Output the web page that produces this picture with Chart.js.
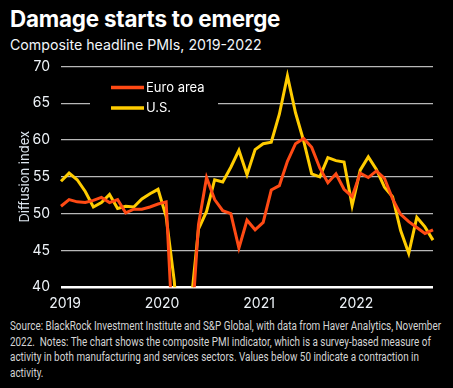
<!DOCTYPE html>
<html>
<head>
<meta charset="utf-8">
<script src="https://cdn.jsdelivr.net/npm/chart.js@4/dist/chart.umd.min.js"></script>
<style>
  html,body{margin:0;padding:0;background:#000;width:453px;height:388px;overflow:hidden;}
  #title{position:absolute;left:10px;top:5px;font-family:Inter,Roboto,sans-serif;font-weight:700;font-size:22.4px;color:#fff;letter-spacing:-0.2px;white-space:nowrap;}
  #sub{position:absolute;left:10px;top:36px;font-family:Inter,Roboto,sans-serif;font-size:14.2px;color:#f2f6fa;white-space:nowrap;}
  #wrap{position:absolute;left:0;top:47px;width:453px;height:267px;}
  #note{position:absolute;left:10px;top:318px;font-family:Roboto,"Liberation Sans",sans-serif;font-size:12.5px;line-height:15.7px;color:#d4d4d4;white-space:pre;transform-origin:0 0;}
</style>
</head>
<body>
<div id="title">Damage starts to emerge</div>
<div id="sub">Composite headline PMIs, 2019-2022</div>
<div id="wrap"><canvas id="c" width="453" height="267"></canvas></div>
<div id="note"><span id="l1">Source: BlackRock Investment Institute and S&amp;P Global, with data from Haver Analytics, November</span>
2022.  Notes: The chart shows the composite PMI indicator, which is a survey-based measure of
activity in both manufacturing and services sectors. Values below 50 indicate a contraction in
activity.</div>
<script>
// fit the footnote's first line to the reference width
(function(){
  const l1 = document.getElementById('l1');
  const w = l1.getBoundingClientRect().width;
  document.getElementById('note').style.transform = 'scaleX(' + (431 / w) + ')';
})();

// Months Jan 2019 .. Nov 2022
const years = [2019, 2020, 2021, 2022];
const months = [];
years.forEach(y => { for (let m = 1; m <= 12; m++) { if (!(y === 2022 && m > 11)) months.push(y + '-' + String(m).padStart(2, '0')); } });

const euroArea = [
  51.0, 51.9, 51.6, 51.5, 51.8, 52.2, 51.5, 51.9, 50.1, 50.6, 50.6, 50.9,
  51.3, 51.6, 29.7, 13.6, 31.9, 48.5, 54.9, 51.9, 50.4, 50.0, 45.3, 49.1,
  47.8, 48.8, 53.2, 53.8, 57.1, 59.5, 60.2, 59.0, 56.2, 54.2, 55.4, 53.3,
  52.3, 55.5, 54.9, 55.8, 54.8, 52.0, 49.9, 48.9, 48.1, 47.3, 47.8
];
const us = [
  54.4, 55.5, 54.6, 53.0, 50.9, 51.5, 52.6, 50.7, 51.0, 50.9, 52.0, 52.7,
  53.3, 49.6, 40.9, 27.0, 37.0, 47.9, 50.3, 54.6, 54.3, 56.3, 58.6, 55.3,
  58.7, 59.5, 59.7, 63.5, 68.7, 63.7, 59.9, 55.4, 55.0, 57.6, 57.2, 57.0,
  51.1, 55.9, 57.7, 56.0, 53.6, 52.3, 47.7, 44.6, 49.5, 48.2, 46.4
];
const yTicks = [40, 45, 50, 55, 60, 65, 70];

const EURO_COLOR = '#ff4a14';
const US_COLOR = '#ffcc00';

const legendPlugin = {
  id: 'inlineLegend',
  beforeDatasetsDraw(chart) {
    const ctx = chart.ctx;
    const xs = chart.scales.x, ys = chart.scales.y;
    ctx.save();
    ctx.fillStyle = '#000';
    ctx.fillRect(xs.left + 29, ys.getPixelForValue(68.2), 128, ys.getPixelForValue(62.3) - ys.getPixelForValue(68.2));
    const x0 = xs.left + 50;
    chart.data.datasets.forEach((ds, i) => {
      const y = ys.getPixelForValue(67.15 - i * 2.8);
      ctx.strokeStyle = ds.borderColor;
      ctx.lineWidth = 3.5;
      ctx.beginPath(); ctx.moveTo(x0, y); ctx.lineTo(x0 + 33, y); ctx.stroke();
      ctx.fillStyle = '#fff';
      ctx.font = '13px Inter, Roboto, sans-serif';
      ctx.textBaseline = 'middle';
      ctx.fillText(ds.label, x0 + 35, y + 0.5);
    });
    ctx.restore();
  }
};

new Chart(document.getElementById('c'), {
  type: 'line',
  data: {
    labels: months,
    datasets: [
      { label: 'Euro area', data: euroArea, borderColor: EURO_COLOR, borderWidth: 3, pointRadius: 0, tension: 0, clip: {left: 4, right: 4, top: 4, bottom: 0} },
      { label: 'U.S.', data: us, borderColor: US_COLOR, borderWidth: 3, pointRadius: 0, tension: 0, clip: {left: 4, right: 4, top: 4, bottom: 0} }
    ]
  },
  options: {
    responsive: false,
    animation: false,
    layout: { padding: { top: 1, right: 20, bottom: 2, left: 0 } },
    plugins: { legend: { display: false }, tooltip: { enabled: false } },
    scales: {
      x: {
        grid: { display: false },
        border: { display: false },
        ticks: {
          autoSkip: false, maxRotation: 0, minRotation: 0, padding: 0, labelOffset: 4,
          color: '#eef3f8', font: { family: 'Inter, Roboto, sans-serif', size: 14 },
          callback: function(v, i) { const l = months[i]; return l.endsWith('-01') ? l.slice(0, 4) : ''; }
        }
      },
      y: {
        min: 40, max: 70,
        afterBuildTicks: s => { s.ticks = yTicks.map(v => ({ value: v })); },
        afterFit: s => { s.width = 61; },
        border: { display: false },
        grid: {
          drawTicks: false,
          color: c => c.tick.value === 40 ? '#ffffff' : '#b8b8b8',
          lineWidth: c => c.tick.value === 40 ? 2.5 : 1.3
        },
        ticks: { padding: 11, color: '#eef3f8', font: { family: 'Inter, Roboto, sans-serif', size: 14 } },
        title: { display: true, text: 'Diffusion index', color: '#dde6ef', font: { family: 'Inter, Roboto, sans-serif', size: 13 }, padding: { top: 17, bottom: 0 } }
      }
    }
  },
  plugins: [legendPlugin]
});
</script>
</body>
</html>
